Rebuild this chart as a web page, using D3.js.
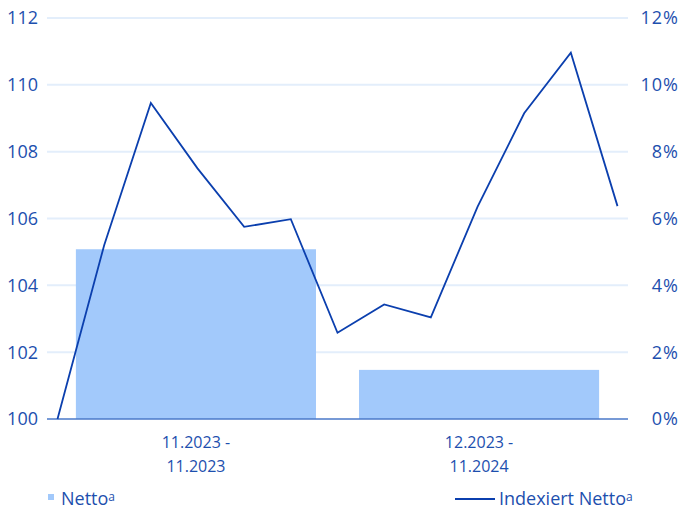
<!DOCTYPE html>
<html>
<head>
<meta charset="UTF-8">
<script src="https://cdn.jsdelivr.net/npm/d3@7"></script>
<style>
    body { margin: 0; background: #fff; }
    svg { display: block; font-family: "Open Sans", sans-serif; }
    .tick-label { fill: #1d4fae; font-size: 18px; }
    .cat-label { fill: #1d4fae; font-size: 16px; }
    .legend-label { fill: #1d4fae; font-size: 18px; }
</style>
</head>
<body>
<div id="chart"></div>
<script>
// Kategorien der Balken (Zeiträume)
const periods = [["11.2023 -", "11.2023"], ["12.2023 -", "11.2024"]];
const nettoPct = [5.08, 1.47];

// Monatswerte der Indexlinie (11.2023 = 100)
const months = ["11.2023", "12.2023", "01.2024", "02.2024", "03.2024", "04.2024", "05.2024",
                "06.2024", "07.2024", "08.2024", "09.2024", "10.2024", "11.2024"];
const indexValues = [100, 105.2, 109.46, 107.5, 105.75, 105.98, 102.58, 103.43, 103.04, 106.35, 109.15, 110.96, 106.37];

const leftTicks = [100, 102, 104, 106, 108, 110, 112];
const rightTicks = [0, 2, 4, 6, 8, 10, 12];

const width = 682, height = 512;
const margin = { left: 47, right: 54, top: 18, bottom: 93 };
const x0 = margin.left, x1 = width - margin.right;
const yTop = margin.top, yBottom = height - margin.bottom;

const svg = d3.select("#chart").append("svg")
    .attr("width", width)
    .attr("height", height);

// Skalen
const yLeft = d3.scaleLinear().domain([100, 112]).range([yBottom, yTop]);
const yRight = d3.scaleLinear().domain([0, 12]).range([yBottom, yTop]);

const xBand = d3.scaleBand()
    .domain(periods.map(p => p.join(" ")))
    .range([x0, x1])
    .paddingInner(0.152)
    .paddingOuter(0.102);

const xPoint = d3.scalePoint()
    .domain(months)
    .range([x0, x1])
    .padding(0.225);

// Gitterlinien
svg.append("g")
    .selectAll("line")
    .data(leftTicks.slice(1))
    .join("line")
    .attr("x1", x0).attr("x2", x1)
    .attr("y1", d => yLeft(d)).attr("y2", d => yLeft(d))
    .attr("stroke", "#e3eefb")
    .attr("stroke-width", 2);

// Balken
svg.append("g")
    .selectAll("rect")
    .data(nettoPct)
    .join("rect")
    .attr("x", (d, i) => xBand(periods[i].join(" ")))
    .attr("width", xBand.bandwidth())
    .attr("y", d => yRight(d))
    .attr("height", d => yRight(0) - yRight(d))
    .attr("fill", "#a2c9fb");

// Achsenlinie unten
svg.append("line")
    .attr("x1", x0).attr("x2", x1)
    .attr("y1", yLeft(100)).attr("y2", yLeft(100))
    .attr("stroke", "#4a78c9")
    .attr("stroke-width", 1.5);

// Linie
const line = d3.line()
    .x((d, i) => xPoint(months[i]))
    .y(d => yLeft(d));

svg.append("path")
    .datum(indexValues)
    .attr("d", line)
    .attr("fill", "none")
    .attr("stroke", "#0b3fae")
    .attr("stroke-width", 1.8)
    .attr("stroke-linejoin", "miter");

// Achsenbeschriftung links
svg.append("g")
    .selectAll("text")
    .data(leftTicks)
    .join("text")
    .attr("class", "tick-label")
    .attr("x", 38)
    .attr("y", d => yLeft(d))
    .attr("dy", "0.36em")
    .attr("text-anchor", "end")
    .text(d => d);

// Achsenbeschriftung rechts
svg.append("g")
    .selectAll("text")
    .data(rightTicks)
    .join("text")
    .attr("class", "tick-label")
    .attr("x", 679)
    .attr("y", d => yRight(d))
    .attr("dy", "0.36em")
    .attr("text-anchor", "end")
    .attr("letter-spacing", "1px")
    .text(d => d + "%");

// Kategorien
const cats = svg.append("g")
    .selectAll("text")
    .data(periods)
    .join("text")
    .attr("class", "cat-label")
    .attr("text-anchor", "middle")
    .attr("x", d => xBand(d.join(" ")) + xBand.bandwidth() / 2)
    .attr("y", 448);

cats.append("tspan").text(d => d[0]);
cats.append("tspan")
    .attr("x", d => xBand(d.join(" ")) + xBand.bandwidth() / 2)
    .attr("dy", 23.5)
    .text(d => d[1]);

// Legende
const legend = svg.append("g");
legend.append("rect")
    .attr("x", 48).attr("y", 494)
    .attr("width", 6).attr("height", 6)
    .attr("fill", "#a2c9fb");
const l1 = legend.append("text")
    .attr("class", "legend-label")
    .attr("x", 61).attr("y", 505);
l1.append("tspan").text("Netto");
l1.append("tspan").attr("font-size", "12px").attr("dy", -4).text("a");

legend.append("line")
    .attr("x1", 455).attr("x2", 495)
    .attr("y1", 499).attr("y2", 499)
    .attr("stroke", "#0b3fae")
    .attr("stroke-width", 1.8);
const l2 = legend.append("text")
    .attr("class", "legend-label")
    .attr("x", 499).attr("y", 505);
l2.append("tspan").text("Indexiert Netto");
l2.append("tspan").attr("font-size", "12px").attr("dy", -4).text("a");
</script>
</body>
</html>
